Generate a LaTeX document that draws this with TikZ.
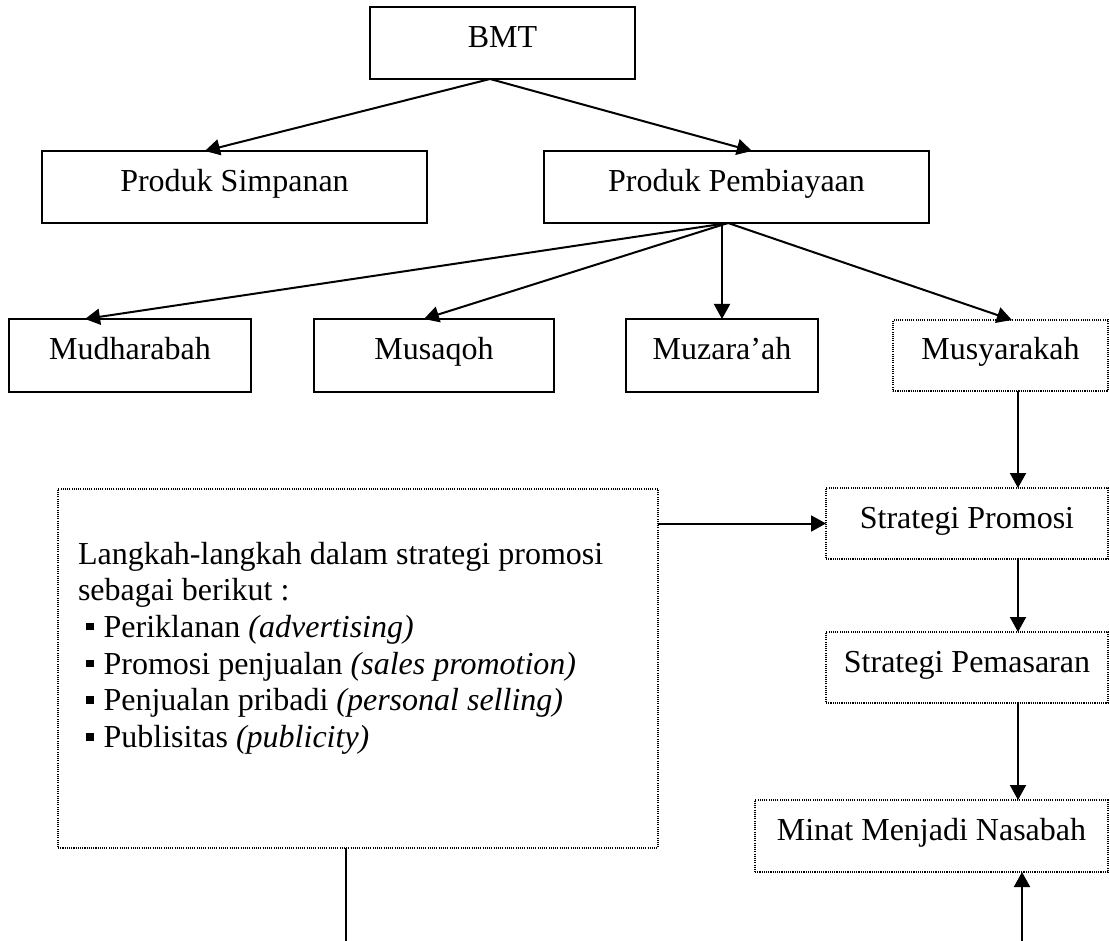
\documentclass[tikz,border=0pt]{standalone}
\usepackage{fontspec}
\setmainfont{Liberation Serif}
\usetikzlibrary{arrows.meta,calc}
\begin{document}
\begin{tikzpicture}[x=0.5pt,y=-0.5pt,
  every node/.style={font=\fontsize{16pt}{18.35pt}\selectfont, inner sep=0pt, outer sep=0pt},
  solidbox/.style={draw, line width=0.95pt, text height=11pt, text depth=6.5pt},
  dotbox/.style={draw, line width=0.7pt, dash pattern=on 0.55pt off 0.55pt, text height=11pt, text depth=6.5pt},
  arr/.style={line width=1pt, -{Triangle[length=7.5pt,width=8pt]}},
  conn/.style={line width=1pt}]
\useasboundingbox (0,0) rectangle (1109,941);
% boxes
\node[solidbox, minimum width=132.5pt, minimum height=36pt] (bmt) at (502.5,43) {BMT};
\node[solidbox, minimum width=192.5pt, minimum height=36pt] (ps) at (234.5,187) {Produk Simpanan};
\node[solidbox, minimum width=192.5pt, minimum height=36pt] (pp) at (736.5,187) {Produk Pembiayaan};
\node[solidbox, minimum width=121pt, minimum height=36.5pt] (mud) at (130,355.5) {Mudharabah};
\node[solidbox, minimum width=120pt, minimum height=36.5pt] (msq) at (434,355.5) {Musaqoh};
\node[solidbox, minimum width=96pt, minimum height=36.5pt] (muz) at (722,355.5) {Muzara’ah};
\node[dotbox, minimum width=107.5pt, minimum height=35.5pt] (musy) at (1000.5,355.5) {Musyarakah};
\node[dotbox, minimum width=141pt, minimum height=35.5pt] (spro) at (967,523.5) {Strategi Promosi};
\node[dotbox, minimum width=141pt, minimum height=35.5pt] (spem) at (967,667.5) {Strategi Pemasaran};
\node[dotbox, minimum width=176.5pt, minimum height=36pt] (minat) at (931.5,836) {Minat Menjadi Nasabah};
\node[dotbox, text height=, text depth=, minimum width=300pt, minimum height=179.5pt] (lbox) at (358,668.5) {};
\newcommand\sqbul{\hspace*{4pt}\raisebox{3.5pt}{\rule{3.8pt}{3.8pt}}\hspace{5pt}}
\node[anchor=base west] (ltext) at (78,564) {\parbox[t]{290pt}{\raggedright
Langkah-langkah dalam strategi promosi\\
sebagai berikut :\\
\sqbul Periklanan \textit{(advertising)}\\
\sqbul Promosi penjualan \textit{(sales promotion)}\\
\sqbul Penjualan pribadi \textit{(personal selling)}\\
\sqbul Publisitas \textit{(publicity)}}};
% coordinates
\coordinate (bmtout) at ($(bmt.south west)!0.453!(bmt.south east)$);
\coordinate (ppout) at ($(pp.south west)!0.478!(pp.south east)$);
\coordinate (rx) at (1018,0);
\coordinate (upstart) at (1022,941);
\coordinate (downend) at (346,941);
% connectors
\draw[arr] (bmtout) -- ($(ps.north west)!0.423!(ps.north east)$);
\draw[arr] (bmtout) -- ($(pp.north west)!0.54!(pp.north east)$);
\draw[arr] (ppout) -- ($(mud.north west)!0.314!(mud.north east)$);
\draw[arr] (ppout) -- ($(msq.north west)!0.458!(msq.north east)$);
\draw[arr] (pp.south -| muz.north) -- (muz.north);
\draw[arr] (ppout) -- ($(musy.north west)!0.553!(musy.north east)$);
\draw[arr] (musy.south -| rx) -- (spro.north -| rx);
\draw[arr] (spro.west -| lbox.east) -- (spro.west);
\draw[arr] (spro.south -| rx) -- (spem.north -| rx);
\draw[arr] (spem.south -| rx) -- (minat.north -| rx);
\draw[arr] (upstart) -- (upstart |- minat.south);
\draw[conn] (lbox.south -| downend) -- (downend);
\end{tikzpicture}
\end{document}
